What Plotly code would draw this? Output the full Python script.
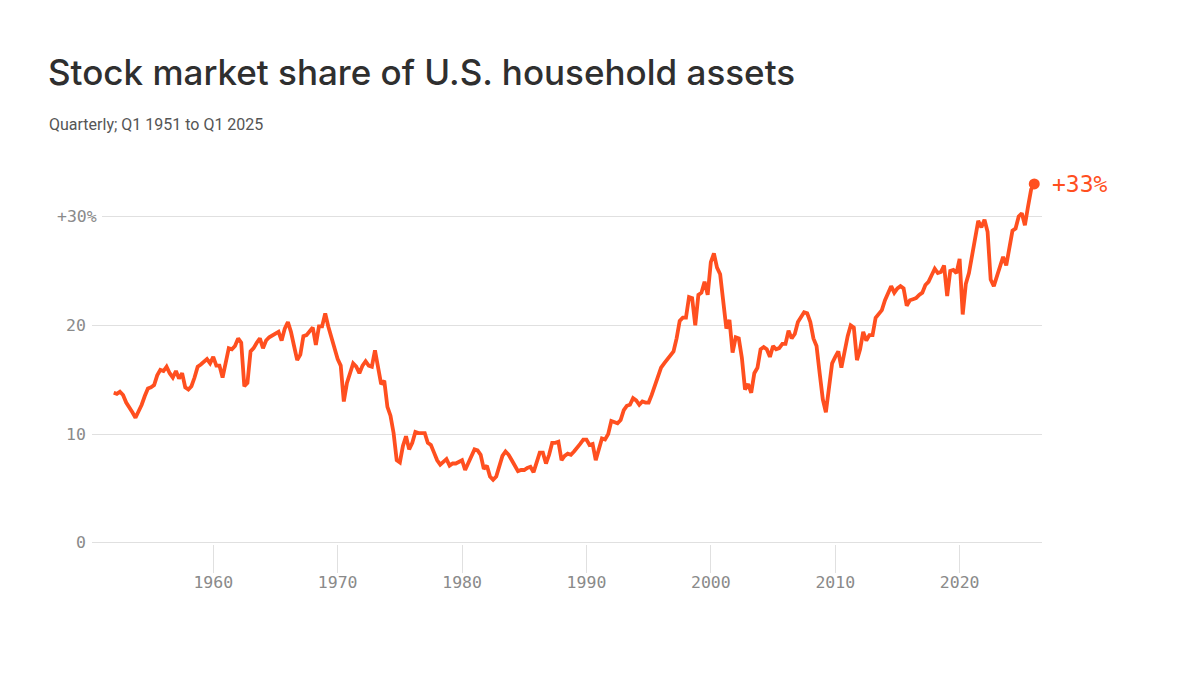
import pandas as pd
import plotly.graph_objects as go

# Stock market share of U.S. household assets, %, one value per quarter
# (quarter-end dates)
share_1950s = [13.8, 13.7, 13.9, 13.6, 12.9, 12.5, 12.0, 11.5, 12.1, 12.7,
               13.5, 14.2, 14.3, 14.5, 15.4, 15.9, 15.8, 16.2, 15.6, 15.2,
               15.8, 15.1, 15.6, 14.3, 14.1, 14.4, 15.2, 16.2, 16.4, 16.6,
               16.9, 16.5, 17.1]
share_1960s = [16.3, 16.3, 15.2, 16.7, 17.9, 17.8, 18.1, 18.8, 18.4, 14.4,
               14.7, 17.6, 17.9, 18.4, 18.8, 17.9, 18.6, 18.9, 19.1, 19.3,
               19.4, 18.6, 19.7, 20.3, 19.4, 18.1, 16.8, 17.3, 19.0, 19.1,
               19.5, 19.8, 18.2, 19.9, 19.9, 21.1, 19.9, 18.8, 18.0, 16.9]
share_1970s = [16.3, 13.0, 14.7, 15.7, 16.5, 16.2, 15.6, 16.3, 16.7, 16.3,
               16.2, 17.7, 16.2, 14.6, 14.9, 12.5, 11.7, 10.1, 7.6, 7.4,
               8.9, 9.8, 8.6, 9.2, 10.2, 10.1, 10.1, 10.1, 9.2, 9.0,
               8.3, 7.6, 7.2, 7.4, 7.7, 7.1, 7.3, 7.3, 7.5, 7.6]
share_1980s = [6.7, 7.4, 8.1, 8.6, 8.5, 8.1, 6.8, 7.1, 6.1, 5.8,
               6.1, 7.0, 8.0, 8.4, 8.1, 7.6, 7.1, 6.6, 6.7, 6.7,
               6.9, 7.0, 6.5, 7.5, 8.3, 8.3, 7.3, 8.1, 9.2, 9.2,
               9.3, 7.6, 8.0, 8.2, 8.1, 8.4, 8.7, 9.1, 9.5, 9.5]
share_1990s = [9.0, 9.1, 7.6, 8.6, 9.6, 9.5, 10.0, 11.2, 11.1, 11.0,
               11.3, 12.2, 12.6, 12.7, 13.3, 13.1, 12.7, 13.0, 12.9, 12.9,
               13.6, 14.5, 15.4, 16.1, 16.5, 16.9, 17.3, 17.6, 18.8, 20.4,
               20.7, 20.7, 22.6, 22.5, 20.0, 22.8, 23.0, 24.0, 22.8, 25.8]
share_2000s = [26.6, 25.3, 24.7, 22.2, 19.7, 20.5, 17.5, 18.9, 18.8, 17.0,
               14.1, 14.6, 13.8, 15.6, 16.1, 17.8, 18.0, 17.8, 17.1, 18.1,
               17.8, 17.9, 18.3, 18.3, 19.5, 18.8, 19.2, 20.3, 20.8, 21.2,
               21.1, 20.3, 18.8, 18.1, 15.6, 13.2, 12.0, 14.2, 16.5, 17.1]
share_2010s = [17.6, 16.1, 17.8, 19.0, 20.0, 19.8, 16.8, 17.8, 19.4, 18.6,
               19.1, 19.1, 20.7, 21.0, 21.4, 22.3, 23.0, 23.6, 23.0, 23.4,
               23.6, 23.4, 21.8, 22.3, 22.4, 22.5, 22.8, 23.0, 23.7, 24.0,
               24.6, 25.2, 24.8, 24.9, 25.5, 22.7, 25.0, 25.1, 24.8, 26.1]
share_2020s = [21.0, 23.8, 24.8, 26.4, 27.9, 29.6, 29.0, 29.7, 28.6, 24.2,
               23.6, 24.5, 25.5, 26.3, 25.5, 27.2, 28.7, 28.9, 30.0, 30.3,
               29.2, 30.9, 32.5, 33.0]

first_quarter = "1951Q4"
last_quarter = "2025Q4"

year_ticks = [1960, 1970, 1980, 1990, 2000, 2010, 2020]
y_ticks = [0, 10, 20]
y_labels = ["0", "10", "20"]
top_tick = 30
top_label = "+30%"

share = (share_1950s + share_1960s + share_1970s + share_1980s
         + share_1990s + share_2000s + share_2010s + share_2020s)
quarters = pd.period_range(first_quarter, last_quarter, freq="Q")
dates = quarters.end_time.normalize()

df = pd.DataFrame({"date": dates, "share": share})

ORANGE = "#ff4f1f"
GRID = "#e0e0e0"
TICK_GRAY = "#8a8a8a"
MONO = "DejaVu Sans Mono"

fig = go.Figure()
fig.add_trace(
    go.Scatter(
        x=df["date"],
        y=df["share"],
        mode="lines",
        line=dict(color=ORANGE, width=3.8),
        hoverinfo="skip",
    )
)
# end point dot
fig.add_trace(
    go.Scatter(
        x=[df["date"].iloc[-1]],
        y=[df["share"].iloc[-1]],
        mode="markers",
        marker=dict(color=ORANGE, size=11),
        cliponaxis=False,
        hoverinfo="skip",
    )
)

annotations = [
    dict(text="Stock market share of U.S. household assets",
         xref="paper", yref="paper", x=-0.0485, y=1.272,
         xanchor="left", yanchor="middle", showarrow=False,
         font=dict(family="Inter", size=35, weight=500, color="#2f2f2f")),
    dict(text="Quarterly; Q1 1951 to Q1 2025",
         xref="paper", yref="paper", x=-0.0475, y=1.13,
         xanchor="left", yanchor="middle", showarrow=False,
         font=dict(family="Roboto", size=16, color="#555555")),
    dict(text="+%d%%" % round(df["share"].iloc[-1]),
         x=df["date"].iloc[-1], y=df["share"].iloc[-1],
         xanchor="left", yanchor="middle", xshift=16, showarrow=False,
         font=dict(family=MONO, size=23, color=ORANGE)),
    dict(text=top_label, xref="paper", yref="y", x=0, y=top_tick,
         xanchor="right", yanchor="middle", xshift=7, showarrow=False,
         font=dict(family=MONO, size=16.5, color=TICK_GRAY)),
]
for v, lab in zip(y_ticks, y_labels):
    annotations.append(
        dict(text=lab, xref="paper", yref="y", x=0, y=v,
             xanchor="right", yanchor="middle", xshift=-4, showarrow=False,
             font=dict(family=MONO, size=16.5, color=TICK_GRAY)))

# page body adds an 8px margin, so the figure is sized a little smaller
fig.update_layout(
    width=1184,
    height=658,
    margin=dict(l=84, r=150, t=165.4, b=121.6),
    paper_bgcolor="white",
    plot_bgcolor="white",
    showlegend=False,
    annotations=annotations,
    shapes=[dict(type="line", xref="paper", yref="y",
                 x0=0.0105, x1=1, y0=top_tick, y1=top_tick,
                 line=dict(color=GRID, width=1), layer="below")],
)
fig.update_xaxes(
    type="date",
    range=["1950-04-02", "2026-08-15"],
    tickvals=[pd.Timestamp(year=y, month=1, day=1) for y in year_ticks],
    ticktext=[str(y) for y in year_ticks],
    ticks="outside",
    ticklen=28,
    tickcolor=GRID,
    tickwidth=1,
    ticklabelstandoff=-5,
    showgrid=False,
    showline=False,
    zeroline=False,
    tickfont=dict(family=MONO, size=16.5, color=TICK_GRAY),
)
fig.update_yaxes(
    range=[-0.1, 34],
    tickvals=y_ticks,
    showticklabels=False,
    showgrid=True,
    gridcolor=GRID,
    gridwidth=1,
    zeroline=False,
    showline=False,
)

fig.write_html("out.html")
